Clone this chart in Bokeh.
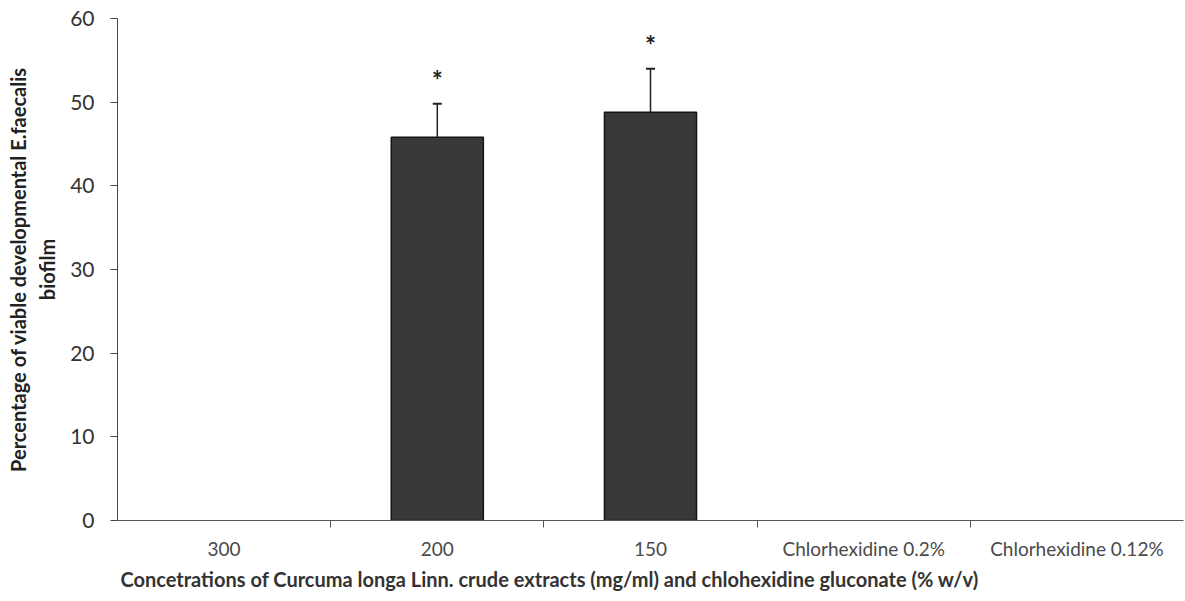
from bokeh.plotting import figure
from bokeh.models import (ColumnDataSource, Range1d, FixedTicker, Whisker, TeeHead, Title)
from bokeh.core.properties import value
from bokeh.embed import file_html
from bokeh.resources import INLINE

# ---- data ----
categories = ["300", "200", "150", "Chlorhexidine 0.2%", "Chlorhexidine 0.12%"]
viable_pct = [0.0, 45.8, 48.8, 0.0, 0.0]
sd_pct = [0.0, 4.0, 5.2, 0.0, 0.0]
significant = [False, True, True, False, False]
y_ticks = [0, 10, 20, 30, 40, 50, 60]
x_title = "Concetrations of Curcuma longa  Linn. crude extracts (mg/ml) and chlohexidine gluconate (% w/v)"
y_title = "Percentage of viable developmental E.faecalis\nbiofilm"

FONT = "Lato"
n = len(categories)
centers = [i + 0.5 for i in range(n)]   # category slot centres
bounds = list(range(1, n))              # category slot boundaries

p = figure(x_range=Range1d(0, n), y_range=Range1d(0, 60),
           width=1185, height=601, output_backend="svg", toolbar_location=None,
           min_border_left=117, min_border_right=2, min_border_top=18, min_border_bottom=81)
p.outline_line_color = None
p.grid.visible = False
p.background_fill_color = "white"

# bars (zero-height bars have nothing to show)
shown = [i for i, v in enumerate(viable_pct) if v > 0]
src = ColumnDataSource(dict(x=[centers[i] for i in shown], val=[viable_pct[i] for i in shown]))
p.vbar(x="x", top="val", width=0.432, source=src,
       fill_color="#383838", line_color="#151515", line_width=1.5)

# error bars (upper only) and significance marks
idx = [i for i, e in enumerate(sd_pct) if e > 0]
err_src = ColumnDataSource(dict(
    x=[centers[i] for i in idx],
    lower=[viable_pct[i] for i in idx],
    upper=[viable_pct[i] + sd_pct[i] for i in idx]))
p.add_layout(Whisker(base="x", lower="lower", upper="upper", source=err_src,
                     dimension="height", line_color="#222222", line_width=1.5,
                     upper_head=TeeHead(size=9, line_color="#222222", line_width=2),
                     lower_head=None))
sig_idx = [i for i in idx if significant[i]]
sig_src = ColumnDataSource(dict(
    x=[centers[i] for i in sig_idx],
    y=[viable_pct[i] + sd_pct[i] for i in sig_idx],
    t=["*"] * len(sig_idx)))
p.text(x="x", y="y", text="t", source=sig_src, text_font=value(FONT),
       text_font_size="26px", text_align="center", text_baseline="alphabetic",
       y_offset=-24, text_color="#222222", text_font_style="bold")

# y axis
ya = p.yaxis[0]
ya.ticker = FixedTicker(ticks=y_ticks)
ya.axis_line_color = "#444444"
ya.major_tick_line_color = "#444444"
ya.major_tick_out = 7
ya.major_tick_in = 0
ya.minor_tick_line_color = None
ya.major_label_text_font = FONT
ya.major_label_text_font_size = "21px"
ya.major_label_text_color = "#333333"
ya.major_label_standoff = 16
ya.axis_label = y_title
ya.axis_label_text_font = FONT
ya.axis_label_text_font_size = "20px"
ya.axis_label_text_font_style = "bold"
ya.axis_label_text_color = "#222222"
ya.axis_label_standoff = 8

# x axis: names at slot centres, tick marks (minor) at slot boundaries
xa = p.xaxis[0]
xa.ticker = FixedTicker(ticks=centers, minor_ticks=bounds)
xa.major_label_overrides = {c: lab for c, lab in zip(centers, categories)}
xa.axis_line_color = "#555555"
xa.major_tick_line_color = None
xa.major_tick_out = 7
xa.major_tick_in = 0
xa.minor_tick_line_color = "#555555"
xa.minor_tick_out = 7
xa.minor_tick_in = 0
xa.major_label_text_font = FONT
xa.major_label_text_font_size = "19px"
xa.major_label_text_color = "#4a4a4a"
xa.major_label_standoff = 9

# x axis title
p.add_layout(Title(text=x_title, align="left", offset=3, text_font=FONT,
                   text_font_size="20px", text_font_style="bold", text_color="#333333",
                   standoff=5), "below")

open("out.html", "w").write(file_html(p, INLINE))
